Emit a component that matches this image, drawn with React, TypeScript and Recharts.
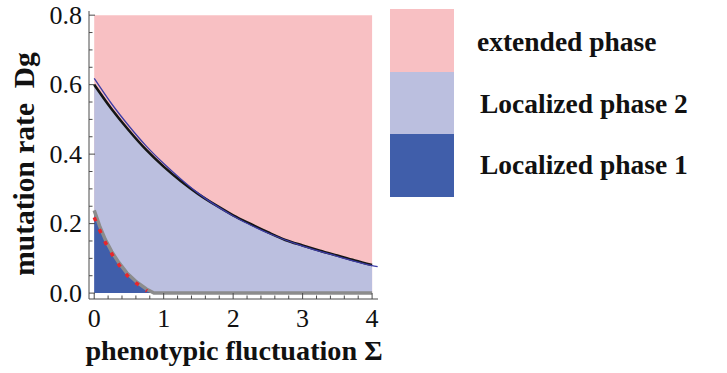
import React from 'react';
import { ComposedChart, Area, Line, XAxis, YAxis } from 'recharts';

// ---- data ----
const xMajorTicks = [0, 1, 2, 3, 4];
const xTickLabels = ['0', '1', '2', '3', '4'];
const yMajorTicks = [0, 0.2, 0.4, 0.6, 0.8];
const yTickLabels = ['0.0', '0.2', '0.4', '0.6', '0.8'];
const xAllTicks = [0, 0.2, 0.4, 0.6, 0.8, 1, 1.2, 1.4, 1.6, 1.8, 2, 2.2, 2.4, 2.6, 2.8, 3, 3.2, 3.4, 3.6, 3.8, 4];
const yAllTicks = [0, 0.05, 0.1, 0.15, 0.2, 0.25, 0.3, 0.35, 0.4, 0.45, 0.5, 0.55, 0.6, 0.65, 0.7, 0.75, 0.8];

// extended phase region (whole plotted rectangle)
const sigmaExtended = [0, 4];
const dgExtended = [0.8, 0.8];

// upper phase boundary (black)
const sigmaBoundary = [0, 0.25, 0.5, 0.75, 1, 1.25, 1.5, 1.75, 2, 2.25, 2.5, 2.75, 3, 3.25, 3.5, 3.75, 4];
const dgBoundary = [0.6, 0.53, 0.468, 0.412, 0.364, 0.322, 0.285, 0.253, 0.224, 0.199, 0.175, 0.153, 0.137, 0.122, 0.108, 0.094, 0.081];

// approximate boundary (thin blue)
const sigmaBlue = [0, 0.25, 0.5, 0.75, 1, 1.25, 1.5, 2, 2.5, 3, 3.5, 4, 4.08];
const dgBlue = [0.618, 0.545, 0.481, 0.423, 0.373, 0.328, 0.287, 0.222, 0.173, 0.135, 0.106, 0.079, 0.076];

// localized phase 1 boundary (gray)
const sigmaInner = [0, 0.08, 0.16, 0.25, 0.35, 0.47, 0.61, 0.75, 0.86];
const dgInner = [0.238, 0.192, 0.154, 0.12, 0.089, 0.058, 0.032, 0.012, 0.0];
const sigmaGrayTail = [4];
const dgGrayTail = [0.0];

// red dotted estimate
const sigmaRed = [0, 0.08, 0.16, 0.25, 0.35, 0.47, 0.61, 0.76];
const dgRed = [0.218, 0.181, 0.146, 0.114, 0.083, 0.052, 0.028, 0.006];

const legendNames = ['extended phase', 'Localized phase 2', 'Localized phase 1'];
const legendColors = ['#f8c0c3', '#bbbfdf', '#405eaa'];

const zip = (xs: number[], ys: number[]) => xs.map((x, i) => ({ x, y: ys[i] }));
const extendedData = zip(sigmaExtended, dgExtended);
const boundaryData = zip(sigmaBoundary, dgBoundary);
const blueData = zip(sigmaBlue, dgBlue);
const innerData = zip(sigmaInner, dgInner);
const grayData = [...innerData, ...zip(sigmaGrayTail, dgGrayTail)];
const redData = zip(sigmaRed, dgRed);

const FONT = '"Liberation Serif", "Times New Roman", serif';
const FRAME = '#4a4a4a';
const X_DOMAIN: [number, number] = [-0.075, 4.085];
const Y_DOMAIN: [number, number] = [-0.017, 0.812];

const majorIndex = (v: number, majors: number[]) => majors.findIndex((m) => Math.abs(m - v) < 1e-6);

const BottomTick = (props: any) => {
  const { x, y, payload } = props;
  const i = majorIndex(payload.value, xMajorTicks);
  return (
    <g>
      <line x1={x} y1={y} x2={x} y2={y - (i >= 0 ? 6 : 3.5)} stroke={FRAME} strokeWidth={1} />
      {i >= 0 && (
        <text x={x} y={y + 19} textAnchor="middle" dominantBaseline="central" fontFamily={FONT} fontSize={26} fill="#111">
          {xTickLabels[i]}
        </text>
      )}
    </g>
  );
};

const TopTick = (props: any) => {
  const { x, y, payload } = props;
  const i = majorIndex(payload.value, xMajorTicks);
  return <line x1={x} y1={y} x2={x} y2={y + (i >= 0 ? 6 : 3.5)} stroke={FRAME} strokeWidth={1} />;
};

const LeftTick = (props: any) => {
  const { x, y, payload } = props;
  const i = majorIndex(payload.value, yMajorTicks);
  return (
    <g>
      <line x1={x} y1={y} x2={x + (i >= 0 ? 6 : 3.5)} y2={y} stroke={FRAME} strokeWidth={1} />
      {i >= 0 && (
        <text x={x - 7} y={y} textAnchor="end" dominantBaseline="central" fontFamily={FONT} fontSize={26} fill="#111">
          {yTickLabels[i]}
        </text>
      )}
    </g>
  );
};

const RightTick = (props: any) => {
  const { x, y, payload } = props;
  const i = majorIndex(payload.value, yMajorTicks);
  return <line x1={x} y1={y} x2={x - (i >= 0 ? 6 : 3.5)} y2={y} stroke={FRAME} strokeWidth={1} />;
};

const XTitle = () => (
  <text x={234} y={360} textAnchor="middle" fontFamily={FONT} fontWeight="bold" fontSize={28.2} fill="#111">
    phenotypic fluctuation Σ
  </text>
);

const YTitle = () => (
  <text
    x={0}
    y={0}
    transform="translate(34,164) rotate(-90)"
    textAnchor="middle"
    fontFamily={FONT}
    fontWeight="bold"
    fontSize={29.5}
    fill="#111"
    style={{ whiteSpace: 'pre' }}
  >
    {'mutation rate  Dg'}
  </text>
);

export default function App() {
  return (
    <div style={{ position: 'absolute', left: 0, top: 0, width: 727, height: 373, background: '#fff', fontFamily: FONT }}>
      <ComposedChart width={727} height={373} margin={{ top: 11, right: 349, bottom: 0, left: 0 }}>
        <XAxis
          xAxisId="b"
          orientation="bottom"
          type="number"
          dataKey="x"
          domain={X_DOMAIN}
          allowDataOverflow
          ticks={xAllTicks}
          interval={0}
          height={74}
          tickSize={0}
          tickMargin={0}
          tickLine={false}
          axisLine={{ stroke: FRAME, strokeWidth: 1 }}
          tick={<BottomTick />}
          label={<XTitle />}
        />
        <XAxis
          xAxisId="t"
          orientation="top"
          type="number"
          dataKey="x"
          domain={X_DOMAIN}
          allowDataOverflow
          ticks={xAllTicks}
          interval={0}
          height={0}
          tickSize={0}
          tickMargin={0}
          tickLine={false}
          axisLine={{ stroke: FRAME, strokeWidth: 1 }}
          tick={<TopTick />}
        />
        <YAxis
          yAxisId="l"
          orientation="left"
          type="number"
          domain={Y_DOMAIN}
          allowDataOverflow
          ticks={yAllTicks}
          interval={0}
          width={89}
          tickSize={0}
          tickMargin={0}
          tickLine={false}
          axisLine={{ stroke: FRAME, strokeWidth: 1 }}
          tick={<LeftTick />}
          label={<YTitle />}
        />
        <YAxis
          yAxisId="r"
          orientation="right"
          type="number"
          domain={Y_DOMAIN}
          allowDataOverflow
          ticks={yAllTicks}
          interval={0}
          width={0}
          tickSize={0}
          tickMargin={0}
          tickLine={false}
          axisLine={{ stroke: FRAME, strokeWidth: 1 }}
          tick={<RightTick />}
        />
        <Area
          xAxisId="b"
          yAxisId="l"
          data={extendedData}
          dataKey="y"
          type="linear"
          fill={legendColors[0]}
          fillOpacity={1}
          stroke="none"
          baseValue={0}
          isAnimationActive={false}
          dot={false}
          activeDot={false}
        />
        <Area
          xAxisId="b"
          yAxisId="l"
          data={boundaryData}
          dataKey="y"
          type="monotone"
          fill={legendColors[1]}
          fillOpacity={1}
          stroke="none"
          baseValue={0}
          isAnimationActive={false}
          dot={false}
          activeDot={false}
        />
        <Area
          xAxisId="b"
          yAxisId="l"
          data={innerData}
          dataKey="y"
          type="monotone"
          fill={legendColors[2]}
          fillOpacity={1}
          stroke="none"
          baseValue={0}
          isAnimationActive={false}
          dot={false}
          activeDot={false}
        />
        <Line
          xAxisId="b"
          yAxisId="l"
          data={grayData}
          dataKey="y"
          type="linear"
          stroke="#8c8c8c"
          strokeWidth={3.5}
          dot={false}
          activeDot={false}
          isAnimationActive={false}
        />
        <Line
          xAxisId="b"
          yAxisId="l"
          data={redData}
          dataKey="y"
          type="monotone"
          stroke="#e8262b"
          strokeWidth={3.5}
          strokeDasharray="4 9"
          dot={false}
          activeDot={false}
          isAnimationActive={false}
        />
        <Line
          xAxisId="b"
          yAxisId="l"
          data={boundaryData}
          dataKey="y"
          type="monotone"
          stroke="#151515"
          strokeWidth={2.6}
          dot={false}
          activeDot={false}
          isAnimationActive={false}
        />
        <Line
          xAxisId="b"
          yAxisId="l"
          data={blueData}
          dataKey="y"
          type="monotone"
          stroke="#3c3ca6"
          strokeWidth={1.3}
          dot={false}
          activeDot={false}
          isAnimationActive={false}
        />
      </ComposedChart>
      {legendNames.map((name, i) => (
        <div key={name}>
          <div
            style={{
              position: 'absolute',
              left: 390,
              top: 9 + i * 62.5,
              width: 64,
              height: 63,
              background: legendColors[i],
            }}
          />
          <div
            style={{
              position: 'absolute',
              left: i === 0 ? 477 : 480,
              top: 42 + i * 61.5 - 16,
              height: 32,
              lineHeight: '32px',
              fontFamily: FONT,
              fontWeight: 'bold',
              fontSize: 27.5,
              color: '#111',
              whiteSpace: 'nowrap',
            }}
          >
            {name}
          </div>
        </div>
      ))}
    </div>
  );
}
